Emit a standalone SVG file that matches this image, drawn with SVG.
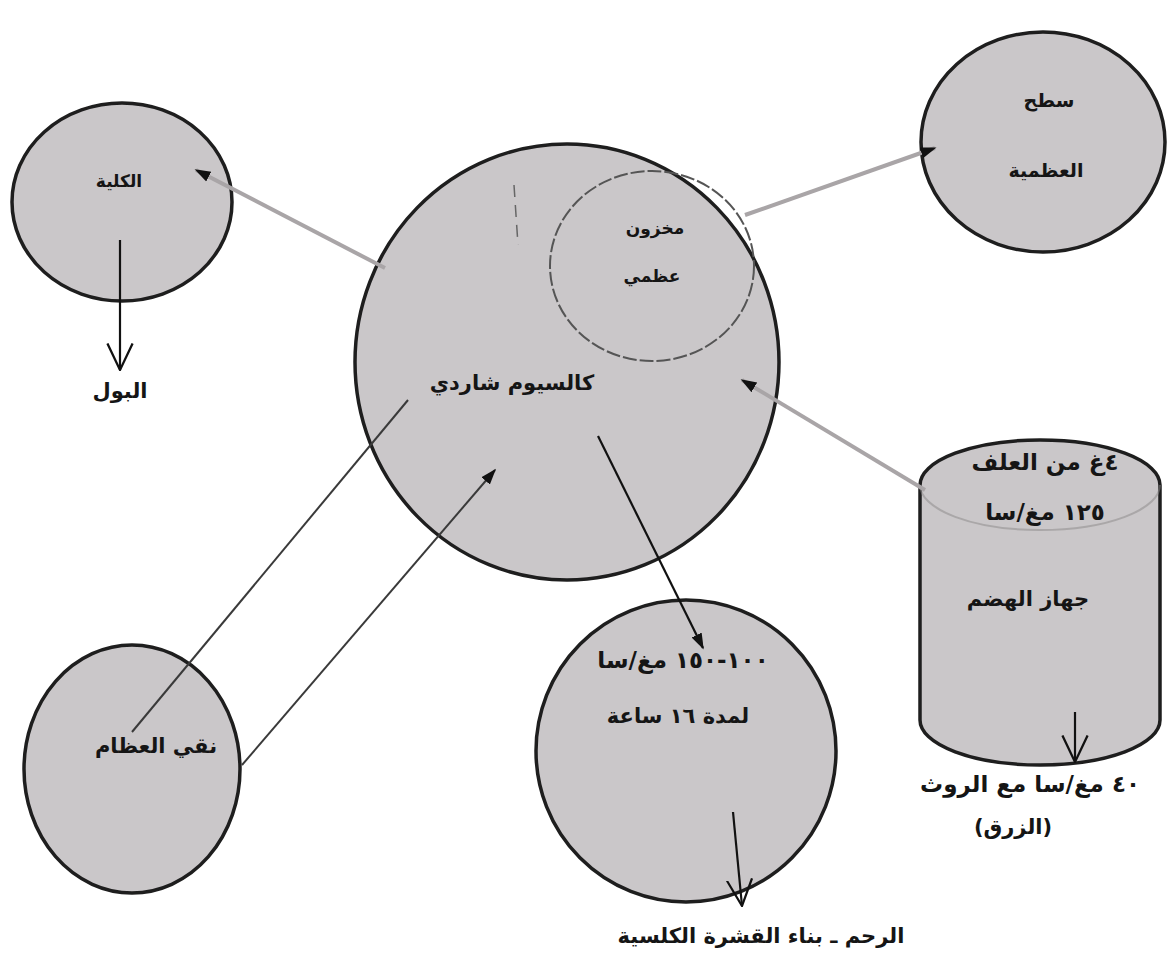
<svg xmlns="http://www.w3.org/2000/svg" width="1169" height="961" viewBox="0 0 1169 961">
<defs>
<style>
.node{fill:#cac7c9;stroke:#1e1e1e;stroke-width:3.5}
.inner{fill:none;stroke:#555;stroke-width:2}
.lbl{font-family:"DejaVu Sans",sans-serif;font-weight:bold;font-size:21px;fill:#151515;text-anchor:middle;direction:rtl}
.sm{font-size:17px}
.md{font-size:19px}
.big{font-size:23px}
.grayline{stroke:#a9a5a7;stroke-width:4;fill:none}
.thin{stroke:#3a3a3a;stroke-width:2;fill:none}
.blk{stroke:#111;stroke-width:2.2;fill:none}
</style>
<marker id="solidL" viewBox="0 0 10 10" refX="9" refY="5" markerWidth="16" markerHeight="16" orient="auto" markerUnits="userSpaceOnUse">
<path d="M0,1.5 L10,5 L0,8.5 z" fill="#111"/>
</marker>
<marker id="vee" viewBox="0 0 10 10" refX="9.5" refY="5" markerWidth="28" markerHeight="28" orient="auto" markerUnits="userSpaceOnUse">
<path d="M0,0.5 L9.5,5 L0,9.5" fill="none" stroke="#111" stroke-width="0.8"/>
</marker>
</defs>
<rect width="1169" height="961" fill="#ffffff"/>

<g id="kidney">
<ellipse class="node" cx="122" cy="202" rx="110" ry="99"/>
<text class="lbl sm" x="119" y="187">الكلية</text>
</g>

<g id="urine">
<text class="lbl" x="120" y="398">البول</text>
</g>

<g id="bone-surface">
<ellipse class="node" cx="1043" cy="142" rx="122" ry="110"/>
<text class="lbl md" x="1049" y="107">سطح</text>
<text class="lbl md" x="1046" y="177">العظمية</text>
</g>

<g id="center">
<ellipse class="node" cx="567" cy="362" rx="212" ry="218"/>
<ellipse class="inner" cx="652" cy="266" rx="102" ry="95" stroke-dasharray="14 3"/>
<line x1="514" y1="185" x2="518" y2="245" stroke="#666" stroke-width="1.5" stroke-dasharray="12 8"/>
<text class="lbl sm" x="655" y="234" fill="#333">مخزون</text>
<text class="lbl sm" x="652" y="282" fill="#333">عظمي</text>
<text class="lbl" x="512" y="390">كالسيوم شاردي</text>
</g>

<g id="digestive">
<path class="node" d="M920,485 A120,45 0 0 1 1160,485 L1160,720 A120,45 0 0 1 920,720 Z"/>
<path d="M920,485 A120,45 0 0 0 1160,485" fill="none" stroke="#8a8888" stroke-width="2" opacity="0.5"/>
<text class="lbl big" x="1045" y="470">٤غ من العلف</text>
<text class="lbl big" x="1045" y="520">١٢٥ مغ/سا</text>
<text class="lbl" x="1028" y="606">جهاز الهضم</text>
</g>

<g id="feces">
<text class="lbl big" x="1030" y="792">٤٠ مغ/سا مع الروث</text>
<text class="lbl" x="1013" y="834">(الزرق)</text>
</g>

<g id="uterus">
<ellipse class="node" cx="686" cy="751" rx="150" ry="151"/>
<text class="lbl big" x="683" y="668">١٠٠-١٥٠ مغ/سا</text>
<text class="lbl" x="678" y="723">لمدة ١٦ ساعة</text>
</g>

<g id="shell">
<text class="lbl" x="761" y="943">الرحم ـ بناء القشرة الكلسية</text>
</g>

<g id="marrow">
<ellipse class="node" cx="132" cy="769" rx="108" ry="124"/>
<text class="lbl" x="156" y="753">نقي العظام</text>
</g>

<g id="connectors">
<line class="grayline" x1="385" y1="268" x2="196" y2="170" marker-end="url(#solidL)"/>
<line class="grayline" x1="745" y1="215" x2="935" y2="148" marker-end="url(#solidL)"/>
<line class="grayline" x1="925" y1="490" x2="742" y2="380" marker-end="url(#solidL)"/>
<line class="blk" x1="598" y1="436" x2="703" y2="648" marker-end="url(#solidL)"/>
<line class="thin" x1="408" y1="400" x2="132" y2="732"/>
<line class="thin" x1="242" y1="765" x2="495" y2="470" marker-end="url(#solidL)"/>
<line class="blk" x1="120" y1="240" x2="120" y2="370" marker-end="url(#vee)"/>
<line class="blk" x1="1075" y1="712" x2="1075" y2="762" marker-end="url(#vee)"/>
<line class="blk" x1="733" y1="812" x2="742" y2="906" marker-end="url(#vee)"/>
</g>
</svg>
